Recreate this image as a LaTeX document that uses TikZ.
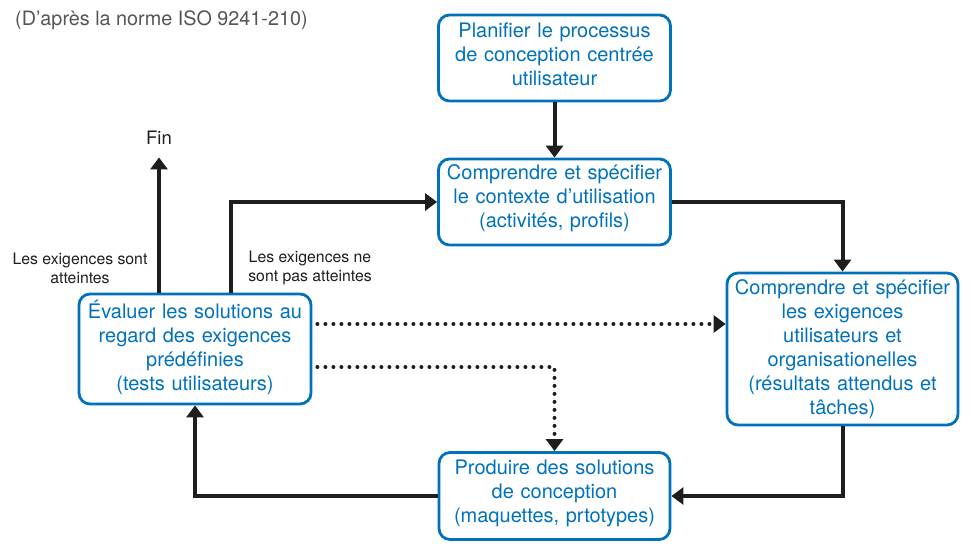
\documentclass[tikz,border=0pt]{standalone}
\usepackage{fontspec}
\setmainfont{TeX Gyre Heros}
\usetikzlibrary{arrows.meta}
\definecolor{isoblue}{RGB}{0,114,188}
\definecolor{isoblack}{RGB}{30,30,30}
\definecolor{isogray}{RGB}{85,85,85}
\newcommand{\boxgap}[1]{\par\vspace*{#1}}

\begin{document}
\begin{tikzpicture}[x=1pt, y=-1pt,
    step box/.style={rectangle, draw=isoblue, line width=2.8pt, rounded corners=11pt,
        fill=white, text=isoblue, align=center, inner sep=0pt, minimum width=232pt,
        text width=226pt, execute at end node=\boxgap{#1},
        font=\fontsize{20}{24}\selectfont},
    step box/.default=8pt,
    note/.style={align=center, text=isoblack, inner sep=0pt,
        font=\fontsize{15.8}{19}\selectfont},
    flow/.style={draw=isoblack, line width=4pt, -{Triangle[width=17pt,length=12pt]}},
    maybe/.style={flow, dash pattern=on 0pt off 8pt, line cap=round}
]
\useasboundingbox (0,0) rectangle (972,554);

\node [anchor=west, text=isogray, inner sep=0pt, font=\fontsize{19.8}{24}\selectfont]
    (Source) at (15,20) {(D’après la norme ISO 9241-210)};

\node [step box, minimum height=86pt] (Plan) at (554.5,58)
    {Planifier le processus\\de conception centrée\\utilisateur};
\node [step box, minimum height=86pt] (Contexte) at (554.5,202)
    {Comprendre et spécifier\\le contexte d’utilisation\\(activités, profils)};
\node [step box=0pt, minimum width=231pt, minimum height=152pt] (Exigences) at (842.5,349)
    {Comprendre et spécifier\\les exigences\\utilisateurs et\\organisationelles\\(résultats attendus et\\tâches)};
\node [step box=5pt, minimum width=231pt, minimum height=87pt] (Produire) at (554.5,496)
    {Produire des solutions\\de conception\\(maquettes, prtotypes)};
\node [step box=3pt, minimum height=110pt] (Evaluer) at (195,349)
    {Évaluer les solutions au\\regard des exigences\\prédéfinies\\(tests utilisateurs)};

\node [inner sep=0pt, text=isoblack, font=\fontsize{18.5}{22}\selectfont] (Fin) at (159,138) {Fin};
\node [note] (Atteintes) at (80,268) {Les exigences sont\\atteintes};
\node [note] (NonAtteintes) at (310,268) {Les exigences ne\\sont pas atteintes};

% main cycle
\draw [flow] (Plan) -- (Contexte);
\draw [flow] (Contexte.east) -| (Exigences.north);
\draw [flow] (Exigences.south) |- (Produire.east);
\draw [flow] (Produire.west) -| (Evaluer.south);

% exits of the evaluation
\draw [flow, shorten >=12.5pt] (Evaluer.north -| Fin.south) -- (Fin.south);
\draw [flow] ([xshift=36pt]Evaluer.north) |- (Contexte.west);
\draw [maybe, shorten <=5pt] ([yshift=25pt]Evaluer.east) -- ([yshift=25pt]Evaluer.east -| Exigences.west);
\draw [maybe, shorten <=5pt] ([yshift=-18pt]Evaluer.east) -| (Produire.north);

\end{tikzpicture}
\end{document}
